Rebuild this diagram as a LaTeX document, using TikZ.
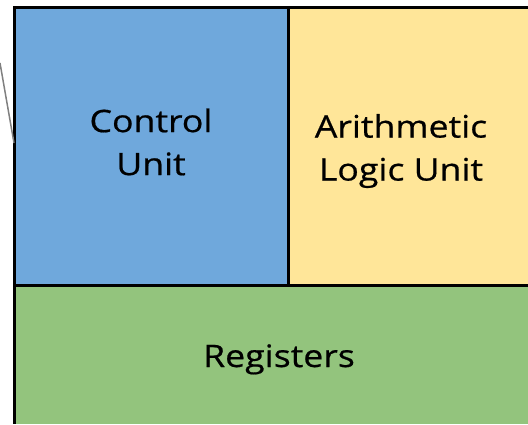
\documentclass[tikz,border=0pt]{standalone}
\usepackage{fontspec}
\newfontfamily\lblfont[FakeStretch=1.15,FakeBold=0.6]{Open Sans}
\definecolor{cublue}{HTML}{6FA8DC}
\definecolor{aluyellow}{HTML}{FFE699}
\definecolor{reggreen}{HTML}{93C47D}
\tikzset{
  lbl/.style={font=\lblfont\fontsize{31}{43}\selectfont, align=center, inner sep=0pt, text=black},
  edge/.style={line width=3pt, black}
}
\begin{document}
\begin{tikzpicture}[x=1pt,y=-1pt]
\useasboundingbox (0,0) rectangle (528,424);
\fill[cublue] (14,7) rectangle (288,285);
\fill[aluyellow] (288,7) rectangle (528,285);
\fill[reggreen] (14,285) rectangle (528,424);
\draw[edge] (528,7) -- (14,7) -- (14,424);
\draw[edge] (288,7) -- (288,285);
\draw[edge] (14,285) -- (528,285);
\coordinate (g1) at (0,63);
\coordinate (g2) at (14,143);
\draw[gray, line width=1.5pt] (g1) -- (g2);
\node[lbl] (cu) at (151,142) {Control\\Unit};
\node[lbl] (alu) at (401,151) {Arithmetic\\Logic Unit};
\node[lbl, anchor=base] (reg) at (279,367) {Registers};
\end{tikzpicture}
\end{document}
